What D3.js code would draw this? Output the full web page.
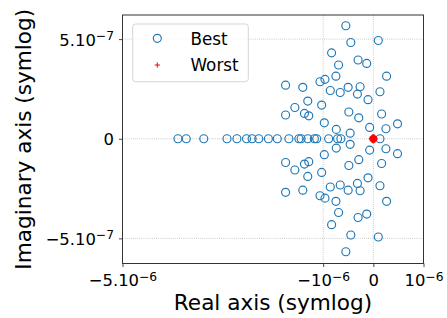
<!DOCTYPE html>
<html>
<head>
<meta charset="utf-8">
<script src="https://cdn.jsdelivr.net/npm/d3@7"></script>
<style>
  html, body { margin: 0; padding: 0; background: #fff; }
  svg { display: block; font-family: "DejaVu Sans", sans-serif; }
</style>
</head>
<body>
<svg id="chart" width="447" height="318"></svg>
<script>
// ---- data ----
const bestRe = [
  -5.48e-7, -4.49e-7, 0.99e-7, -8.32e-7, -3.04e-7, -1.32e-7, -6.93e-7, 2.64e-7, -7.46e-7, -9.64e-7,
  -10.63e-7, -17.49e-7, -14.06e-7, -8.58e-7, -5.02e-7, -2.64e-7, -6.60e-7, -3.17e-7, 1.32e-7, -1.06e-7,
  -13.07e-7, -10.30e-7, -15.64e-7, -13.73e-7, -12.87e-7, -17.49e-7, -4.88e-7, -2.90e-7, 1.65e-7, -9.77e-7,
  -7.39e-7, -0.73e-7, 2.51e-7, 4.82e-7, -4.62e-7,
  -5.48e-7, -4.49e-7, 0.99e-7, -8.32e-7, -3.04e-7, -1.32e-7, -6.93e-7, 2.64e-7, -7.46e-7, -9.64e-7,
  -10.63e-7, -17.49e-7, -14.06e-7, -8.58e-7, -5.02e-7, -2.64e-7, -6.60e-7, -3.17e-7, 1.32e-7, -1.06e-7,
  -13.07e-7, -10.30e-7, -15.64e-7, -13.73e-7, -12.87e-7, -17.49e-7, -4.88e-7, -2.90e-7, 1.65e-7, -9.77e-7,
  -7.39e-7, -0.73e-7, 2.51e-7, 4.82e-7, -4.62e-7,
  -3.894e-6, -3.729e-6, -3.380e-6, -2.917e-6, -2.719e-6, -2.528e-6, -2.416e-6, -2.284e-6, -2.092e-6, -1.914e-6,
  -1.683e-6, -1.485e-6, -1.439e-6, -1.307e-6, -1.175e-6, -1.129e-6, -0.891e-6, -0.713e-6, -0.647e-6, 0.132e-6
];
const bestIm = [
  5.67e-7, 4.83e-7, 4.93e-7, 4.31e-7, 3.95e-7, 3.78e-7, 3.70e-7, 3.14e-7, 3.14e-7, 2.98e-7,
  2.86e-7, 2.69e-7, 2.58e-7, 2.42e-7, 2.58e-7, 2.61e-7, 2.32e-7, 2.24e-7, 2.36e-7, 1.96e-7,
  1.89e-7, 1.69e-7, 1.57e-7, 1.27e-7, 1.15e-7, 1.19e-7, 1.34e-7, 1.05e-7, 1.24e-7, 0.80e-7,
  0.47e-7, 0.57e-7, 0.50e-7, 0.75e-7, 0.28e-7,
  -5.67e-7, -4.83e-7, -4.93e-7, -4.31e-7, -3.95e-7, -3.78e-7, -3.70e-7, -3.14e-7, -3.14e-7, -2.98e-7,
  -2.86e-7, -2.69e-7, -2.58e-7, -2.42e-7, -2.58e-7, -2.61e-7, -2.32e-7, -2.24e-7, -2.36e-7, -1.96e-7,
  -1.89e-7, -1.69e-7, -1.57e-7, -1.27e-7, -1.15e-7, -1.19e-7, -1.34e-7, -1.05e-7, -1.24e-7, -0.80e-7,
  -0.47e-7, -0.57e-7, -0.50e-7, -0.75e-7, -0.28e-7,
  0, 0, 0, 0, 0, 0, 0, 0, 0, 0,
  0, 0, 0, 0, 0, 0, 0, 0, 0, 0
];
const worstRe = [0, -0.035e-6, 0.035e-6, 0, 0, -0.02e-6, 0.02e-6, -0.02e-6, 0.02e-6];
const worstIm = [0, 0, 0, 0.1e-7, -0.1e-7, 0.07e-7, 0.07e-7, -0.07e-7, -0.07e-7];

const xTickValues = [-5e-6, -1e-6, 0, 1e-6];
const xTickBase = ["\u22125.10", "\u221210", "0", "10"];
const xTickExp = ["\u22126", "\u22126", "", "\u22126"];
const yTickValues = [5e-7, 0, -5e-7];
const yTickBase = ["5.10", "0", "\u22125.10"];
const yTickExp = ["\u22127", "", "\u22127"];

const seriesNames = ["Best", "Worst"];

// ---- layout ----
const svg = d3.select("#chart");
const L = 122.5, R = 423.5, T = 15, B = 263.5;
const x = d3.scaleLinear().domain([-5e-6, 1e-6]).range([L, R]);
const y = d3.scaleLinear().domain([-6.26e-7, 6.21e-7]).range([B, T]);

const blue = "#1f77b4", red = "#ff0000";

// grid
const grid = svg.append("g");
grid.selectAll(".gx").data(xTickValues).join("line")
  .attr("x1", d => x(d)).attr("x2", d => x(d)).attr("y1", T).attr("y2", B)
  .attr("stroke", "#b0b0b0").attr("stroke-width", 0.8).attr("stroke-dasharray", "0.8,1.3");
grid.selectAll(".gy").data(yTickValues).join("line")
  .attr("y1", d => y(d)).attr("y2", d => y(d)).attr("x1", L).attr("x2", R)
  .attr("stroke", "#b0b0b0").attr("stroke-width", 0.8).attr("stroke-dasharray", "0.8,1.3");

// points
const best = bestRe.map((r, i) => ({re: r, im: bestIm[i]}));
svg.append("g").selectAll("circle").data(best).join("circle")
  .attr("cx", d => x(d.re)).attr("cy", d => y(d.im)).attr("r", 4)
  .attr("fill", "none").attr("stroke", blue).attr("stroke-width", 1.15);

const worst = worstRe.map((r, i) => ({re: r, im: worstIm[i]}));
const plusPath = s => `M${-s},0H${s}M0,${-s}V${s}`;
svg.append("g").selectAll("path").data(worst).join("path")
  .attr("transform", d => `translate(${x(d.re)},${y(d.im)})`)
  .attr("d", plusPath(2.6)).attr("stroke", red).attr("stroke-width", 2).attr("fill", "none");

// axes
function styleTicks(g, bases, exps) {
  g.selectAll(".tick text").each(function(d, i) {
    const t = d3.select(this);
    t.text(null);
    t.append("tspan").text(bases[i]);
    if (exps[i]) t.append("tspan").attr("dy", "-0.45em").attr("font-size", "12.3px").text(exps[i]);
  });
}
const fmtBlank = () => "";
const xAxis = svg.append("g").attr("transform", `translate(0,${B})`)
  .call(d3.axisBottom(x).tickValues(xTickValues).tickSize(3.5).tickPadding(4).tickFormat(fmtBlank));
xAxis.selectAll(".tick text").attr("font-size", "16.4px").attr("fill", "#000");
styleTicks(xAxis, xTickBase, xTickExp);
xAxis.selectAll(".tick text").attr("dy", "0.93em");

const yAxis = svg.append("g").attr("transform", `translate(${L},0)`)
  .call(d3.axisLeft(y).tickValues(yTickValues).tickSize(3.5).tickPadding(5).tickFormat(fmtBlank));
yAxis.selectAll(".tick text").attr("font-size", "16.4px").attr("fill", "#000");
styleTicks(yAxis, yTickBase, yTickExp);
yAxis.selectAll(".tick text").attr("dy", "0.36em");

[xAxis, yAxis].forEach(a => {
  a.select(".domain").remove();
  a.selectAll(".tick line").attr("stroke", "#333").attr("stroke-width", 0.9);
  a.attr("font-family", null);
});

// frame
svg.append("rect").attr("x", L).attr("y", T).attr("width", R - L).attr("height", B - T)
  .attr("fill", "none").attr("stroke", "#333").attr("stroke-width", 1);

// axis labels
svg.append("text").attr("x", (L + R) / 2).attr("y", 310).attr("text-anchor", "middle")
  .attr("font-size", "21.6px").attr("fill", "#000").text("Real axis (symlog)");
svg.append("text").attr("transform", `translate(31,${(T + B) / 2}) rotate(-90)`).attr("text-anchor", "middle")
  .attr("font-size", "21.6px").attr("fill", "#000").text("Imaginary axis (symlog)");

// legend
const lg = svg.append("g");
lg.append("rect").attr("x", 132.7).attr("y", 24).attr("width", 115.6).attr("height", 57.7)
  .attr("rx", 3).attr("fill", "#fff").attr("fill-opacity", 0.8).attr("stroke", "#d5d5d5").attr("stroke-width", 1);
lg.append("circle").attr("cx", 157.3).attr("cy", 38.3).attr("r", 4)
  .attr("fill", "none").attr("stroke", blue).attr("stroke-width", 1.15);
lg.append("path").attr("transform", "translate(157.3,65)").attr("d", plusPath(2.6))
  .attr("stroke", red).attr("stroke-width", 1);
lg.selectAll("text.lt").data(seriesNames).join("text").attr("class", "lt")
  .attr("x", 190.5).attr("y", (d, i) => i === 0 ? 44.5 : 71.2)
  .attr("font-size", "16.8px").attr("fill", "#000").text(d => d);
</script>
</body>
</html>
